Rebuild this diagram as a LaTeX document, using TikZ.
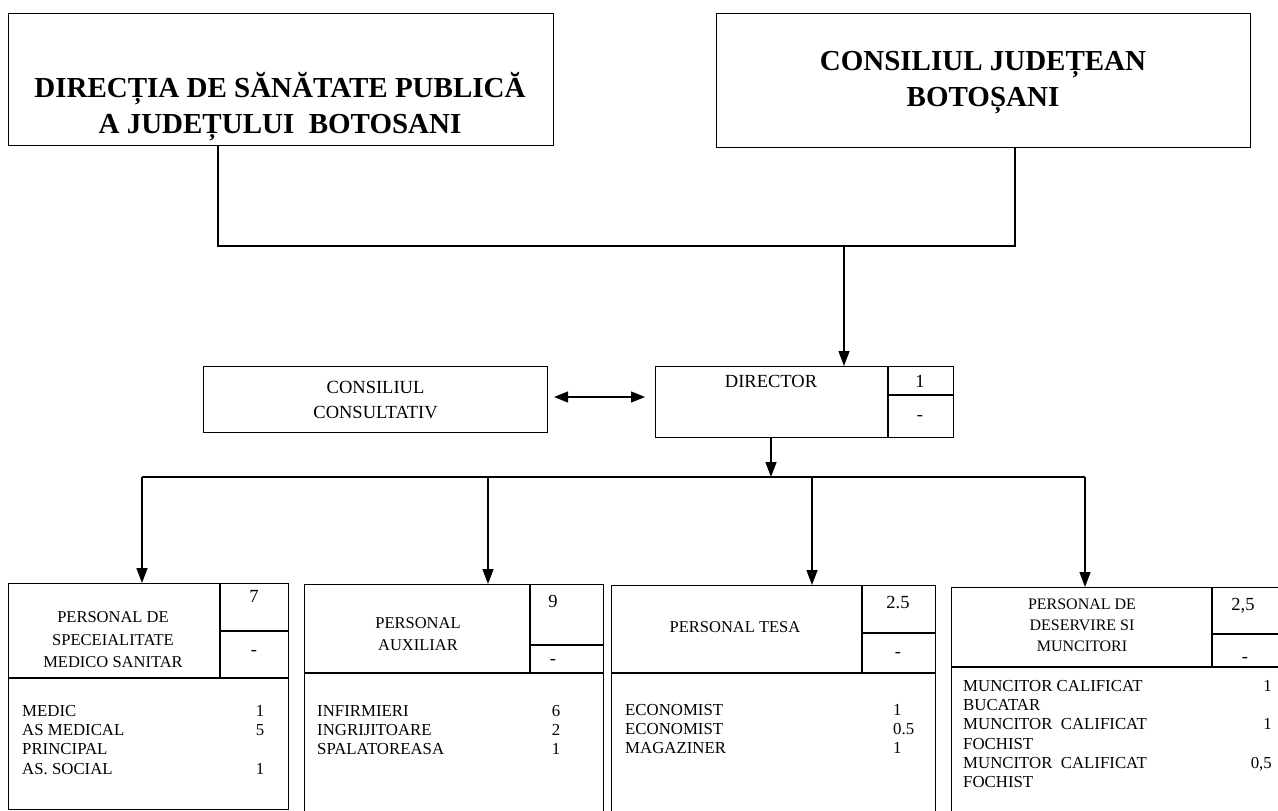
\documentclass[tikz,border=0pt]{standalone}
\usepackage{fontspec}
\setmainfont{Liberation Serif}
\usetikzlibrary{arrows.meta}
\begin{document}
\begin{tikzpicture}[x=1pt,y=-1pt,
  box/.style={draw, line width=1.1pt, inner sep=0pt, anchor=north west},
  thin/.style={line width=1.1pt},
  conn/.style={line width=1.4pt},
  arr/.style={conn, -{Triangle[length=15pt,width=11pt]}},
  darr/.style={conn, {Triangle[length=14pt,width=11pt]}-{Triangle[length=14pt,width=11pt]}},
  big/.style={font=\fontsize{29}{36}\selectfont\bfseries, align=center, inner sep=0pt},
  mid/.style={font=\fontsize{18.5}{25}\selectfont, align=center, inner sep=0pt},
  hd/.style={font=\fontsize{16.5}{22.5}\selectfont, align=center, inner sep=0pt},
  bd/.style={font=\fontsize{16.8}{19.3}\selectfont, inner sep=0pt},
]
\useasboundingbox (0,0) rectangle (1278,811);

% top boxes
\node[box, minimum width=545pt, minimum height=132pt] (dsp) at (8,13) {};
\node[big] (dspt) at (280,107) {DIRECȚIA DE SĂNĂTATE PUBLICĂ\\A JUDEȚULUI~~BOTOSANI};
\node[box, minimum width=534pt, minimum height=134pt] (cjb) at (716,13) {};
\node[big] (cjbt) at (983,83) {CONSILIUL JUDEȚEAN\\BOTOȘANI};

% junction
\coordinate (jl) at (218,246);
\coordinate (jr) at (1015,246);
\coordinate (jd) at (844,246);
\draw[conn] (dsp.south -| jl) -- (jl) -- (jr) -- (cjb.south -| jr);

% director row
\node[box, minimum width=344pt, minimum height=66pt] (cc) at (203,366) {};
\node[mid] (cct) at (cc.center) {CONSILIUL\\CONSULTATIV};
\node[box, minimum width=298pt, minimum height=71pt] (dir) at (655,366) {};
\coordinate (dv) at (888,366);
\coordinate (dh) at (888,395);
\draw[thin] (dv) -- (dv |- dir.south);
\draw[thin] (dh) -- (dh -| dir.east);
\node[mid] (dirt) at (771,381) {DIRECTOR};
\node[mid] (dir1) at (920,381) {1};
\node[mid] (dir2) at (920,418) {-};
\draw[arr] (jd) -- (jd |- dir.north);
\draw[darr] ([xshift=6pt]cc.east |- 0,397) -- ([xshift=-10pt]dir.west |- 0,397);

% second junction
\coordinate (dd) at (771,477);
\draw[arr] (dir.south -| dd) -- (dd);
\coordinate (b1) at (142,477);
\coordinate (b2) at (488,477);
\coordinate (b3) at (812,477);
\coordinate (b4) at (1085,477);
\draw[conn] (b1) -- (b4);

% box 1
\node[box, minimum width=280pt, minimum height=226pt] (p1) at (8,583) {};
\draw[thin] (p1.west |- 0,678) -- (p1.east |- 0,678);
\draw[thin] (220,583) -- (220,678);
\draw[thin] (220,631) -- (p1.east |- 0,631);
\node[hd] (p1t) at (113,640) {PERSONAL DE\\SPECEIALITATE\\MEDICO SANITAR};
\node[mid] (p1a) at (254,596) {7};
\node[mid] (p1b) at (254,653) {-};
\node[bd, anchor=north west, align=left] (p1l) at (22,705) {MEDIC\\AS MEDICAL\\PRINCIPAL\\AS. SOCIAL};
\node[bd, anchor=north, align=center] (p1n) at (260,705) {1\\5\\\strut\\1};

% box 2
\node[box, minimum width=299pt, minimum height=232pt] (p2) at (304,584) {};
\draw[thin] (p2.west |- 0,673) -- (p2.east |- 0,673);
\draw[thin] (530,584) -- (530,673);
\draw[thin] (530,645) -- (p2.east |- 0,645);
\node[hd] (p2t) at (418,634) {PERSONAL\\AUXILIAR};
\node[mid] (p2a) at (553,601) {9};
\node[mid] (p2b) at (553,662) {-};
\node[bd, anchor=north west, align=left] (p2l) at (317,705) {INFIRMIERI\\INGRIJITOARE\\SPALATOREASA};
\node[bd, anchor=north, align=center] (p2n) at (556,705) {6\\2\\1};

% box 3
\node[box, minimum width=324pt, minimum height=231pt] (p3) at (611,585) {};
\draw[thin] (p3.west |- 0,673) -- (p3.east |- 0,673);
\draw[thin] (862,585) -- (862,673);
\draw[thin] (862,633) -- (p3.east |- 0,633);
\node[hd] (p3t) at (735,627) {PERSONAL TESA};
\node[mid] (p3a) at (898,603) {2.5};
\node[mid] (p3b) at (898,655) {-};
\node[bd, anchor=north west, align=left] (p3l) at (625,704) {ECONOMIST\\ECONOMIST\\MAGAZINER};
\node[bd, anchor=north west, align=left] (p3n) at (893,704) {1\\0.5\\1};

% box 4
\node[box, minimum width=340pt, minimum height=230pt] (p4) at (951,587) {};
\draw[thin] (p4.west |- 0,667) -- (p4.east |- 0,667);
\draw[thin] (1212,587) -- (1212,667);
\draw[thin] (1212,634) -- (p4.east |- 0,634);
\node[hd, font=\fontsize{16}{21}\selectfont] (p4t) at (1082,625) {PERSONAL DE\\DESERVIRE SI\\MUNCITORI};
\node[mid] (p4a) at (1243,606) {2,5};
\node[mid] (p4b) at (1245,660) {-};
\node[bd, anchor=north west, align=left] (p4l) at (963,680) {MUNCITOR CALIFICAT\\BUCATAR\\MUNCITOR~~CALIFICAT\\FOCHIST\\MUNCITOR~~CALIFICAT\\FOCHIST};
\node[bd, anchor=north east, align=right] (p4n) at (1272,680) {1\\\strut\\1\\\strut\\0,5};

% arrows to boxes
\draw[arr] (b1) -- (b1 |- p1.north);
\draw[arr] (b2) -- (b2 |- p2.north);
\draw[arr] (b3) -- (b3 |- p3.north);
\draw[arr] (b4) -- (b4 |- p4.north);
\end{tikzpicture}
\end{document}
